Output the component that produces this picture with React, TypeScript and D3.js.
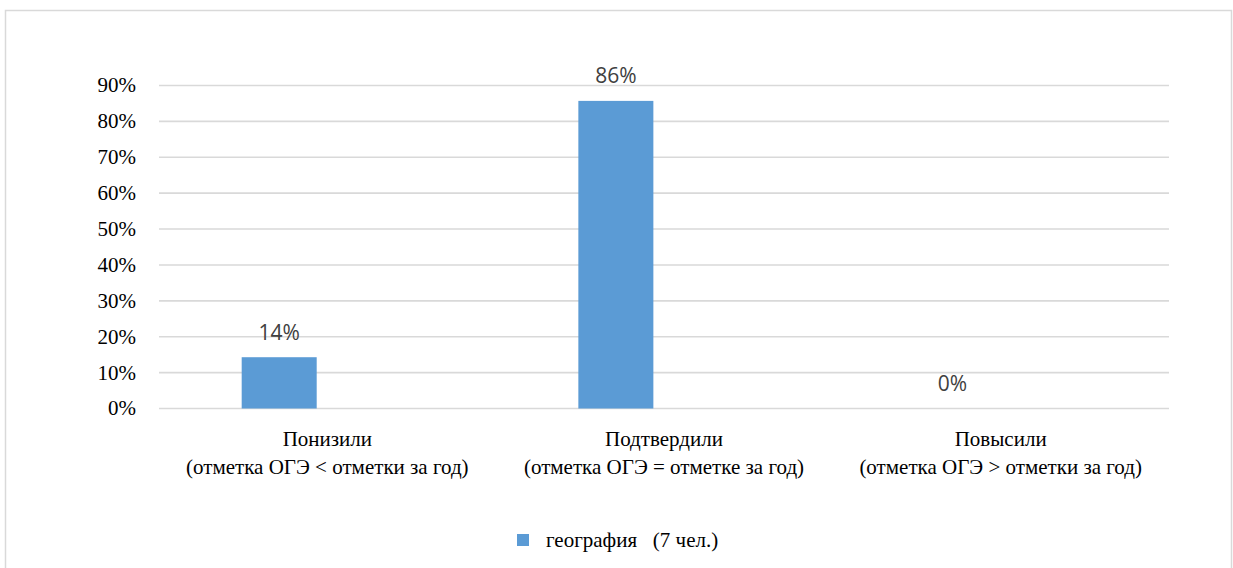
import React from "react";
import * as d3 from "d3";

const categoriesLine1 = ["Понизили", "Подтвердили", "Повысили"];
const categoriesLine2 = [
  "(отметка ОГЭ < отметки за год)",
  "(отметка ОГЭ = отметке за год)",
  "(отметка ОГЭ > отметки за год)",
];
const values = [0.1429, 0.8571, 0];
const valueLabels = ["14%", "86%", "0%"];
const yTicks = [0, 0.1, 0.2, 0.3, 0.4, 0.5, 0.6, 0.7, 0.8, 0.9];
const seriesName = "география   (7 чел.)";

const W = 1233;
const H = 568;
const plot = { left: 159, right: 1169, top: 85.5, bottom: 408.5 };
const barColor = "#5B9BD5";
const gridColor = "#d9d9d9";
const serif = "Liberation Serif";
const sans = "Open Sans";
const SERIF_SIZE = 21;

function SerifText(props: {
  x: number;
  y: number;
  anchor?: string;
  dy?: string;
  children: React.ReactNode;
}) {
  return (
    <text
      x={props.x}
      y={props.y}
      fontSize={SERIF_SIZE}
      textAnchor={props.anchor || "start"}
      dy={props.dy}
      style={{ fontFamily: serif, whiteSpace: "pre" }}
    >
      {props.children}
    </text>
  );
}

export default function App() {
  const x = d3
    .scaleBand<number>()
    .domain(d3.range(categoriesLine1.length))
    .range([plot.left, plot.right]);
  const y = d3.scaleLinear().domain([0, 0.9]).range([plot.bottom, plot.top]);
  const bw = x.bandwidth();
  const barOffset = bw * 0.2456;
  const barWidth = bw * 0.2228;

  return (
    <svg
      width={W}
      height={H}
      style={{ position: "absolute", left: 0, top: 0, background: "#fff" }}
    >
      <rect x={5.5} y={10.5} width={1226} height={570} fill="#fff" stroke={gridColor} strokeWidth={1.5} />
      {yTicks.map((t) => (
        <g key={t}>
          <line x1={plot.left} x2={plot.right} y1={y(t)} y2={y(t)} stroke={gridColor} strokeWidth={1.6} />
          <SerifText x={136} y={y(t)} anchor="end" dy="0.33em">
            {d3.format(".0%")(t)}
          </SerifText>
        </g>
      ))}
      {values.map((v, i) => {
        const bx = (x(i) as number) + barOffset;
        const cx = (x(i) as number) + bw / 2;
        return (
          <g key={i}>
            {v > 0 && (
              <rect x={bx} y={y(v)} width={barWidth} height={y(0) - y(v)} fill={barColor} />
            )}
            <text
              x={bx + barWidth / 2}
              y={y(v) - 17.5}
              textAnchor="middle"
              style={{ fontFamily: sans }}
              fontSize={21}
              fill="#404040"
            >
              {valueLabels[i]}
            </text>
            <SerifText x={cx} y={446} anchor="middle">
              {categoriesLine1[i]}
            </SerifText>
            <SerifText x={cx} y={474} anchor="middle">
              {categoriesLine2[i]}
            </SerifText>
          </g>
        );
      })}
      <rect x={517} y={534} width={12} height={12} fill={barColor} />
      <SerifText x={546} y={547}>
        {seriesName}
      </SerifText>
    </svg>
  );
}
